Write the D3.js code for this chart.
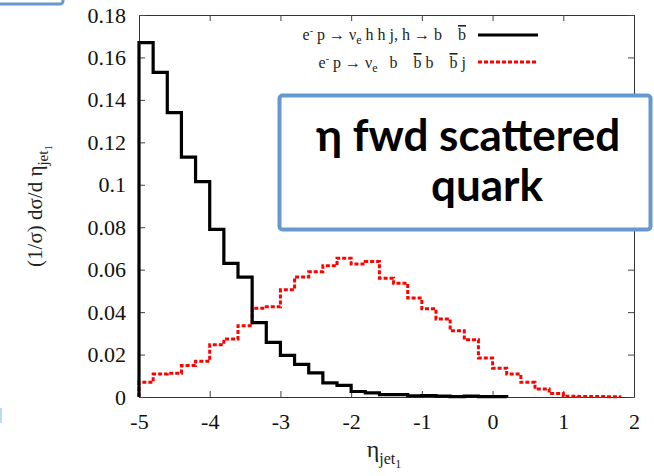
<!DOCTYPE html>
<html>
<head>
<meta charset="utf-8">
<script src="https://cdn.jsdelivr.net/npm/d3@7"></script>
<style>
  body { margin: 0; background: #fff; }
  svg { display: block; }
  .serif, .serif text { font-family: "Liberation Serif", Tinos, "Times New Roman", "DejaVu Serif", serif; }
  .pre { white-space: pre; }
</style>
</head>
<body>
<div id="chart"></div>
<script>
// 1. SETUP
const width = 654;
const height = 476;
const margin = { top: 15, right: 20, bottom: 79, left: 139 };

// DATA (bin width 0.2, starting at eta = -5)
const binStart = -5;
const binWidth = 0.2;
const xTicks = [-5, -4, -3, -2, -1, 0, 1, 2];
const yTicks = [0, 0.02, 0.04, 0.06, 0.08, 0.1, 0.12, 0.14, 0.16, 0.18];

// e- p -> ve h h j, h -> b bbar  (signal)
const hhValues = [
  0.167, 0.153, 0.134, 0.113, 0.1015, 0.079, 0.063, 0.0565, 0.035, 0.0257,
  0.0196, 0.0154, 0.0114, 0.0067, 0.0055, 0.0026, 0.0019, 0.0011, 0.0011, 0.0006,
  0.0007, 0.0004, 0.0002, 0.0004, 0.0002, 0.0002
];

// e- p -> ve b bbar b bbar j  (background)
const bbbbValues = [
  0.0069, 0.0108, 0.0112, 0.0148, 0.0168, 0.0246, 0.0273, 0.0336, 0.0418, 0.0425,
  0.0505, 0.0565, 0.059, 0.0618, 0.0654, 0.0627, 0.0638, 0.056, 0.0536, 0.0466,
  0.0416, 0.0368, 0.0312, 0.027, 0.0184, 0.0136, 0.0108, 0.0069, 0.0038, 0.0016,
  0.0003, 0.0002, 0.0002, 0.0001
];

const svg = d3.select("#chart")
    .append("svg")
    .attr("width", width)
    .attr("height", height)
    .attr("viewBox", [0, 0, width, height]);

// --- SCALES ---
const x = d3.scaleLinear()
    .domain([-5, 2])
    .range([margin.left, width - margin.right]);

const y = d3.scaleLinear()
    .domain([0, 0.18])
    .range([height - margin.bottom, margin.top]);

// --- FRAME + TICKS (all four sides, ticks pointing inward) ---
const frame = svg.append("g").attr("class", "frame serif");

frame.append("g")
    .attr("transform", `translate(0, ${y(0)})`)
    .call(d3.axisBottom(x).tickValues(xTicks).tickSizeInner(-6).tickSizeOuter(0).tickPadding(16)
        .tickFormat(d => String(d)));

frame.append("g")
    .attr("transform", `translate(0, ${y(0.18)})`)
    .call(d3.axisTop(x).tickValues(xTicks).tickSizeInner(-6).tickSizeOuter(0).tickFormat(""));

frame.append("g")
    .attr("transform", `translate(${x(-5)}, 0)`)
    .call(d3.axisLeft(y).tickValues(yTicks).tickSizeInner(-6).tickSizeOuter(0).tickPadding(13)
        .tickFormat(d => String(+d.toFixed(2))));

frame.append("g")
    .attr("transform", `translate(${x(2)}, 0)`)
    .call(d3.axisRight(y).tickValues(yTicks).tickSizeInner(-6).tickSizeOuter(0).tickFormat(""));

frame.selectAll("g").attr("font-family", null).attr("font-size", null);
frame.selectAll("text").attr("fill", "#111").style("font-size", "22px");
frame.selectAll(".domain").attr("stroke", "#333");
frame.selectAll(".tick line").attr("stroke", "#444");

// --- HISTOGRAMS ---
function stepPoints(values) {
    const pts = [[binStart, 0]];
    values.forEach((v, i) => pts.push([binStart + i * binWidth, v]));
    const end = binStart + values.length * binWidth;
    pts.push([end, values[values.length - 1]]);
    pts.push([end, 0]);
    return pts;
}

const line = d3.line()
    .x(d => x(d[0]))
    .y(d => y(d[1]))
    .curve(d3.curveStepAfter);

svg.append("path")
    .attr("d", line(stepPoints(bbbbValues)))
    .attr("fill", "none")
    .attr("stroke", "#ff0000")
    .attr("stroke-width", 3)
    .attr("stroke-dasharray", "4,2");

svg.append("path")
    .attr("d", line(stepPoints(hhValues)))
    .attr("fill", "none")
    .attr("stroke", "#000")
    .attr("stroke-width", 3.2);

// --- LEGEND ---
const legend = svg.append("g")
    .attr("class", "serif")
    .style("font-size", "16px")
    .attr("fill", "#222");

const leg1 = legend.append("text").attr("class", "pre").attr("x", 466).attr("y", 40).attr("text-anchor", "end");
leg1.append("tspan").text("e");
leg1.append("tspan").text("-").attr("dy", -6).style("font-size", "10px");
leg1.append("tspan").text(" p \u2192 \u03bd").attr("dy", 6);
leg1.append("tspan").text("e").attr("dy", 4).style("font-size", "12px");
leg1.append("tspan").text(" h h j, h \u2192 b    ").attr("dy", -4);
leg1.append("tspan").text("b").style("text-decoration", "overline");

legend.append("line")
    .attr("x1", 478).attr("x2", 538).attr("y1", 35).attr("y2", 35)
    .attr("stroke", "#000").attr("stroke-width", 3);

const leg2 = legend.append("text").attr("class", "pre").attr("x", 466).attr("y", 68).attr("text-anchor", "end");
leg2.append("tspan").text("e");
leg2.append("tspan").text("-").attr("dy", -6).style("font-size", "10px");
leg2.append("tspan").text(" p \u2192 \u03bd").attr("dy", 6);
leg2.append("tspan").text("e").attr("dy", 4).style("font-size", "12px");
leg2.append("tspan").text("   b    ").attr("dy", -4);
leg2.append("tspan").text("b").style("text-decoration", "overline");
leg2.append("tspan").text(" b    ");
leg2.append("tspan").text("b").style("text-decoration", "overline");
leg2.append("tspan").text(" j");

legend.append("line")
    .attr("x1", 478).attr("x2", 538).attr("y1", 62).attr("y2", 62)
    .attr("stroke", "#ff0000").attr("stroke-width", 3).attr("stroke-dasharray", "4,2");

// --- AXIS TITLES ---
const yTitle = svg.append("text")
    .attr("class", "serif")
    .attr("transform", "translate(42, 206) rotate(-90)")
    .attr("text-anchor", "middle")
    .style("font-size", "21px")
    .attr("fill", "#222");
yTitle.append("tspan").text("(1/\u03c3) d\u03c3/d \u03b7");
yTitle.append("tspan").text("jet").attr("dy", 6).style("font-size", "15px");
yTitle.append("tspan").text("1").attr("dy", 4).style("font-size", "11px");

const xTitle = svg.append("text")
    .attr("class", "serif")
    .attr("x", 384).attr("y", 457)
    .attr("text-anchor", "middle")
    .style("font-size", "24px")
    .attr("fill", "#222");
xTitle.append("tspan").text("\u03b7");
xTitle.append("tspan").text("jet").attr("dy", 7).style("font-size", "16px");
xTitle.append("tspan").text("1").attr("dy", 4).style("font-size", "12px");

// --- ANNOTATION BOX ---
const boxBlue = "#6798cf";
svg.append("rect")
    .attr("x", 279.5).attr("y", 95.5)
    .attr("width", 371).attr("height", 134)
    .attr("rx", 3)
    .attr("fill", "#fff")
    .attr("stroke", boxBlue)
    .attr("stroke-width", 4);

const note = svg.append("g")
    .style("font-family", "Lato, 'Open Sans', sans-serif")
    .style("font-weight", "bold")
    .style("font-size", "44px")
    .attr("fill", "#000")
    .attr("text-anchor", "middle");
note.append("text").attr("x", 468).attr("y", 151).text("\u03b7 fwd scattered");
note.append("text").attr("x", 487).attr("y", 201).text("quark");

// stray bits of neighbouring slide shapes
svg.append("rect")
    .attr("x", -20).attr("y", -20)
    .attr("width", 83).attr("height", 24)
    .attr("rx", 3)
    .attr("fill", "none")
    .attr("stroke", boxBlue)
    .attr("stroke-width", 3);

svg.append("line")
    .attr("x1", 1).attr("x2", 1).attr("y1", 408).attr("y2", 423)
    .attr("stroke", "#9fd0f0").attr("stroke-width", 1.5);
</script>
</body>
</html>
